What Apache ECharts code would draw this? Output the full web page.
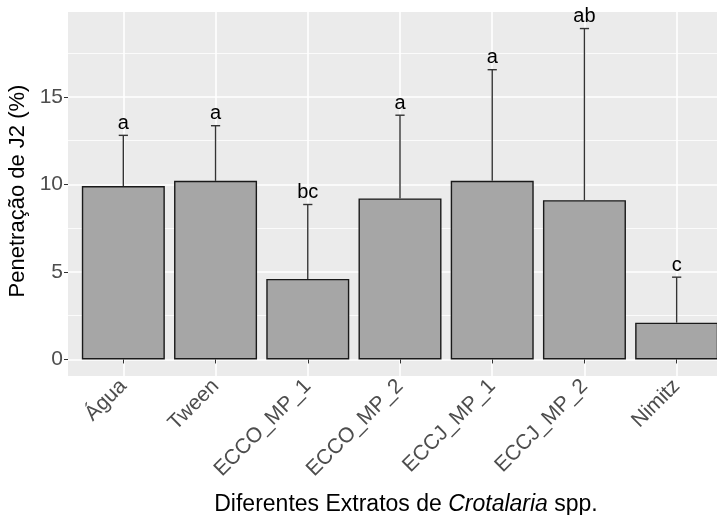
<!DOCTYPE html>
<html><head><meta charset="utf-8">
<script src="https://cdn.jsdelivr.net/npm/echarts@6/dist/echarts.min.js"></script>
</head>
<body style="margin:0;background:#fff">
<div id="c" style="width:717px;height:515px"></div>
<script>
const categories = ['Água', 'Tween', 'ECCO_MP_1', 'ECCO_MP_2', 'ECCJ_MP_1', 'ECCJ_MP_2', 'Nimitz'];
const means = [9.9, 10.2, 4.6, 9.2, 10.2, 9.1, 2.1];
const upper = [12.8, 13.35, 8.85, 13.95, 16.55, 18.9, 4.7];
const letters = ['a', 'a', 'bc', 'a', 'a', 'ab', 'c'];
const yTicks = [0, 5, 10, 15];
const yMinor = [2.5, 7.5, 12.5, 17.5];

const positions = categories.map((_, i) => i + 1);
const FONT = '"Liberation Sans", Arial, sans-serif';

const chart = echarts.init(document.getElementById('c'), null, {renderer: 'canvas'});
chart.setOption({
  animation: false,
  backgroundColor: '#fff',
  grid: {left: 68, width: 664, top: 12, height: 364, show: true, backgroundColor: '#EBEBEB', borderWidth: 0,
    outerBoundsMode: 'none', containLabel: false},
  xAxis: {
    type: 'value', min: 0.4, max: 7.6,
    axisLine: {show: false},
    axisTick: {show: true, customValues: positions, length: 4, lineStyle: {color: '#333', width: 1}},
    axisLabel: {customValues: positions, formatter: v => categories[Math.round(v) - 1],
      rotate: 45, color: '#4D4D4D', fontSize: 21, fontFamily: FONT, margin: 7},
    splitLine: {show: true, lineStyle: {color: '#fff', width: 1.6}},
    name: '{n|Diferentes Extratos de }{i|Crotalaria}{n| spp.}',
    nameLocation: 'middle', nameGap: 117,
    nameTextStyle: {padding: [0, 0, 0, 12], rich: {
      n: {fontSize: 23, fontFamily: FONT, color: '#000'},
      i: {fontSize: 23, fontFamily: FONT, color: '#000', fontStyle: 'italic'}
    }}
  },
  yAxis: [{
    type: 'value', min: -0.945, max: 19.845,
    axisLine: {show: false},
    axisTick: {show: true, customValues: yTicks, length: 4, lineStyle: {color: '#333', width: 1}},
    axisLabel: {customValues: yTicks, color: '#4D4D4D', fontSize: 21, fontFamily: FONT, margin: 5},
    splitLine: {show: true, lineStyle: {color: '#fff', width: 1.6}},
    name: 'Penetração de J2 (%)', nameLocation: 'middle', nameRotate: 90, nameGap: 34,
    nameTextStyle: {fontSize: 22, fontFamily: FONT, color: '#000', padding: [0, 0, 0, 6]}
  }, {
    type: 'value', min: -0.945, max: 19.845, position: 'left',
    axisLine: {show: false},
    axisTick: {show: false, customValues: yMinor},
    axisLabel: {show: false, customValues: yMinor},
    splitLine: {show: true, lineStyle: {color: '#fff', width: 0.8}}
  }],
  series: [{
    type: 'bar',
    data: means.map((v, i) => [positions[i], v]),
    barWidth: 83,
    itemStyle: {color: '#A6A6A6', borderColor: '#1a1a1a', borderWidth: 1.4},
    z: 2
  }, {
    type: 'custom',
    data: means.map((m, i) => [positions[i], m, upper[i], i]),
    encode: {x: 0, y: [1, 2]},
    z: 3,
    renderItem: (params, api) => {
      const x = api.value(0), m = api.value(1), u = api.value(2), idx = api.value(3);
      const p0 = api.coord([x, m]);
      const p1 = api.coord([x, u]);
      const half = api.size([0.05, 0])[0];
      const st = {stroke: '#333', lineWidth: 1.4};
      return {type: 'group', children: [
        {type: 'line', shape: {x1: p0[0], y1: p0[1], x2: p1[0], y2: p1[1]}, style: st},
        {type: 'line', shape: {x1: p1[0] - half, y1: p1[1], x2: p1[0] + half, y2: p1[1]}, style: st},
        {type: 'text', style: {text: letters[idx], x: p1[0], y: p1[1] - 2, align: 'center',
          verticalAlign: 'bottom', fill: '#000', fontSize: 20, fontFamily: FONT}}
      ]};
    }
  }]
});
</script>
</body></html>
